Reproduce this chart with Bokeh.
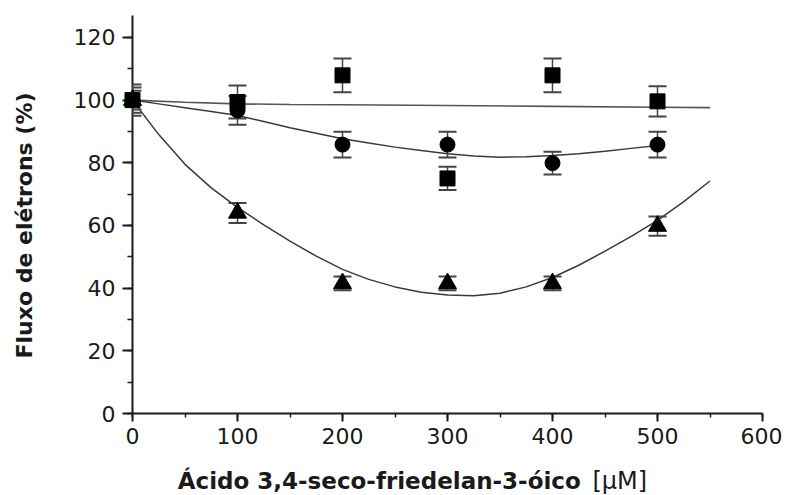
from math import pi
from bokeh.plotting import figure
from bokeh.models import (Range1d, SingleIntervalTicker, Whisker, ColumnDataSource,
                          TeeHead)
from bokeh.core.properties import value
from bokeh.embed import file_html
from bokeh.resources import INLINE

# ---- data ----
conc = [0, 100, 200, 300, 400, 500]

sq_val = [100, 99.4, 107.9, 75.0, 107.9, 99.6]
sq_err = [5.0, 5.3, 5.4, 3.7, 5.4, 4.8]

ci_val = [100, 96.7, 85.8, 85.8, 79.9, 85.8]
ci_err = [4.0, 4.6, 4.1, 4.1, 3.6, 4.1]

tr_val = [100, 64.0, 41.5, 41.5, 41.5, 59.8]
tr_err = [3.0, 3.2, 2.2, 2.2, 2.2, 3.1]

# fitted curves
sq_fit_x = [0, 50, 100, 150, 200, 300, 400, 500, 550]
sq_fit_y = [100, 99.3, 98.8, 98.6, 98.5, 98.3, 98.0, 97.7, 97.6]

ci_fit_x = [0, 25, 50, 75, 100, 125, 150, 175, 200, 225, 250, 275, 300,
            325, 350, 375, 400, 425, 450, 475, 500]
ci_fit_y = [100, 98.8, 97.6, 96.4, 95.1, 93.2, 91.2, 89.4, 87.7, 86.3, 85.0,
            83.9, 82.9, 82.2, 81.8, 81.9, 82.3, 82.9, 83.7, 84.6, 85.5]

tr_fit_x = [0, 25, 50, 75, 100, 125, 150, 175, 200, 225, 250, 275, 300,
            325, 350, 375, 400, 425, 450, 475, 500, 525, 550]
tr_fit_y = [100, 89.0, 79.5, 72.0, 65.8, 60.2, 55.0, 50.2, 46.0, 42.8, 40.4,
            38.7, 37.8, 37.6, 38.4, 40.4, 43.4, 47.3, 51.8, 56.5, 61.6, 67.6, 74.2]

x_ticks_interval = 100
y_ticks_interval = 20
x_title = "Ácido 3,4-seco-friedelan-3-óico"
x_unit = "[µM]"
y_title = "Fluxo de elétrons (%)"

# ---- figure ----
p = figure(frame_width=630, frame_height=398,
           x_range=Range1d(0, 600), y_range=Range1d(0, 127),
           min_border_left=132, min_border_right=20,
           min_border_top=15, min_border_bottom=82,
           output_backend="svg", toolbar_location=None,
           background_fill_color="white", border_fill_color="white")
p.outline_line_color = None
p.grid.visible = False

ink = "#1a1a1a"
tick_font = "DejaVu Sans"

# x axis
xa = p.xaxis[0]
xa.ticker = SingleIntervalTicker(interval=x_ticks_interval, num_minor_ticks=2)
xa.axis_line_width = 2
xa.axis_line_color = ink
xa.major_tick_line_width = 2
xa.major_tick_line_color = ink
xa.minor_tick_line_width = 1.5
xa.minor_tick_line_color = ink
xa.major_tick_out = 8
xa.major_tick_in = 0
xa.minor_tick_out = 4
xa.minor_tick_in = 0
xa.major_label_text_font = tick_font
xa.major_label_text_font_size = "22px"
xa.major_label_text_color = ink
xa.major_label_standoff = 6

# y axis
ya = p.yaxis[0]
ya.ticker = SingleIntervalTicker(interval=y_ticks_interval, num_minor_ticks=2)
ya.axis_line_width = 2
ya.axis_line_color = ink
ya.major_tick_line_width = 2
ya.major_tick_line_color = ink
ya.minor_tick_line_width = 1.5
ya.minor_tick_line_color = ink
ya.major_tick_out = 10
ya.major_tick_in = 0
ya.minor_tick_out = 5
ya.minor_tick_in = 0
ya.major_label_text_font = tick_font
ya.major_label_text_font_size = "22px"
ya.major_label_text_color = ink
ya.major_label_standoff = 7

# curves
curve_col = "#3a3a3a"
p.line(sq_fit_x, sq_fit_y, line_color="#555555", line_width=1.6)
p.line(ci_fit_x, ci_fit_y, line_color=curve_col, line_width=1.5)
p.line(tr_fit_x, tr_fit_y, line_color=curve_col, line_width=1.5)

# error bars
err_col = "#444444"
for vals, errs in ((ci_val, ci_err), (tr_val, tr_err), (sq_val, sq_err)):
    src = ColumnDataSource(dict(x=conc,
                                lo=[v - e for v, e in zip(vals, errs)],
                                hi=[v + e for v, e in zip(vals, errs)]))
    w = Whisker(source=src, base="x", lower="lo", upper="hi", level="annotation",
                line_color=err_col, line_width=1.5,
                upper_head=TeeHead(size=18, line_color=err_col, line_width=2),
                lower_head=TeeHead(size=18, line_color=err_col, line_width=2))
    p.add_layout(w)

# markers (overlay level so the points on the y axis are not cut)
p.scatter(conc, ci_val, marker="circle", size=15, fill_color="black",
          line_color="black", level="overlay")
p.scatter(conc, tr_val, marker="triangle", size=18, fill_color="black",
          line_color="black", level="overlay")
p.scatter(conc, sq_val, marker="square", size=15, fill_color="black",
          line_color="black", level="overlay")

# axis titles as overlay text glyphs (not clipped to the frame)
p.text(x=[-103], y=[60], text=[y_title], angle=pi / 2, level="overlay",
       text_align="center", text_baseline="middle",
       text_font=value("DejaVu Sans"), text_font_style="bold",
       text_font_size="22px", text_color=ink)
p.text(x=[235], y=[-21.6], text=[x_title], level="overlay",
       text_align="center", text_baseline="middle",
       text_font=value("DejaVu Sans"), text_font_style="bold",
       text_font_size="23px", text_color=ink)
p.text(x=[438], y=[-21.4], text=[x_unit], level="overlay",
       text_align="left", text_baseline="middle",
       text_font=value("DejaVu Sans"), text_font_style="normal",
       text_font_size="24px", text_color=ink)

open("out.html", "w").write(file_html(p, INLINE))
